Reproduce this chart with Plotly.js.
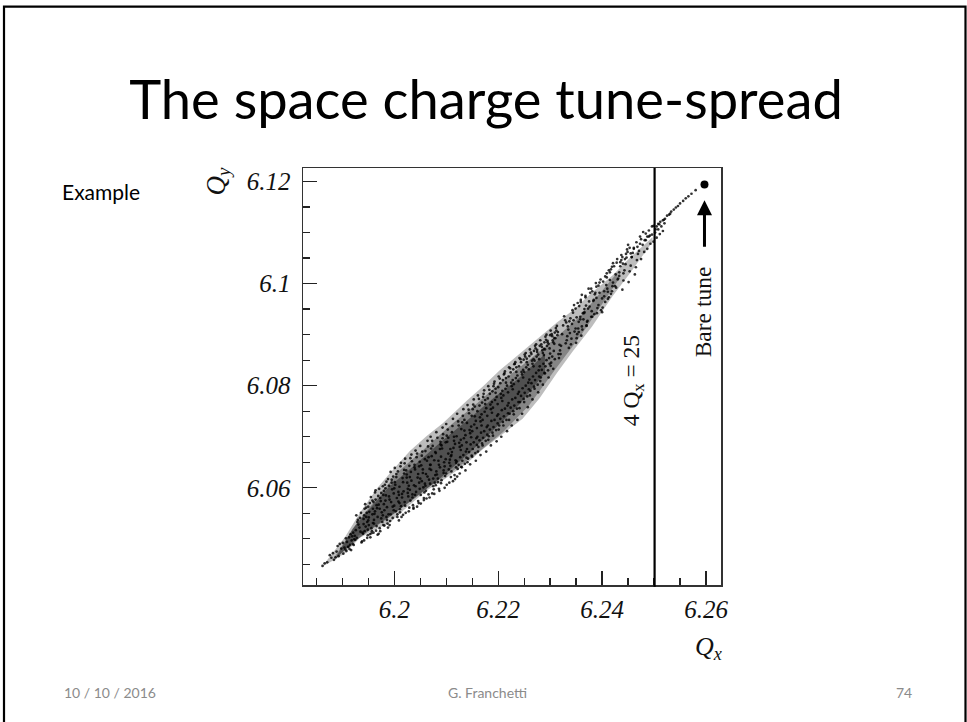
<!DOCTYPE html>
<html><head><meta charset="utf-8">
<script src="https://cdn.plot.ly/plotly-3.0.1.min.js"></script>
<style>html,body{margin:0;padding:0;background:#fff}#c{width:967px;height:722px}</style>
</head><body><div id="c"></div>
<script>
const envelopeQx=[6.1862,6.189,6.1905,6.1934,6.1967,6.1992,6.203,6.2063,6.2094,6.214,6.2171,6.2203,6.2247,6.228,6.2313,6.2344,6.238,6.242,6.2455,6.2497];
const envelopeTop=[6.0447,6.0482,6.0503,6.0551,6.0599,6.0629,6.0672,6.0702,6.0727,6.0771,6.0799,6.083,6.0868,6.0897,6.0924,6.0948,6.0982,6.1016,6.1052,6.1091];
const envelopeBottom=[6.0446,6.0462,6.0472,6.0502,6.052,6.0532,6.0567,6.0595,6.0615,6.0648,6.0676,6.07,6.0735,6.0776,6.0825,6.0868,6.0915,6.0975,6.1022,6.1082];
const midQx=[6.1885,6.193,6.197,6.201,6.206,6.211,6.216,6.221,6.226,6.231,6.236,6.243];
const midTop=[6.0464,6.0534,6.0584,6.0634,6.0678,6.0724,6.0766,6.0811,6.0851,6.0893,6.0938,6.1022];
const midBottom=[6.0458,6.0506,6.053,6.0558,6.0597,6.0631,6.0668,6.071,6.0762,6.0832,6.09,6.1005];
const coreQx=[6.189,6.192,6.195,6.199,6.204,6.209,6.214,6.219,6.224,6.229];
const coreTop=[6.0468,6.052,6.0556,6.0602,6.0645,6.069,6.0732,6.0775,6.0815,6.0862];
const coreBottom=[6.0464,6.0492,6.0515,6.0542,6.058,6.062,6.0664,6.0712,6.0762,6.0825];
const cloudQx=[
6.1862,6.1871,6.1866,6.1879,6.1884,6.1876,6.1889,6.1893,6.1882,6.1898,6.1887,6.1902,6.1895,6.1906,6.1891,6.1911,
6.1918,6.1908,6.1915,6.1913,6.1921,6.1904,6.1917,6.1909,6.1919,6.1912,6.1923,6.1916,6.1901,6.1914,6.1907,6.1920,
6.1931,6.1924,6.1937,6.1926,6.1934,6.1922,6.1939,6.1929,6.1925,6.1936,6.1928,6.1933,6.1938,6.1927,6.1935,6.1930,
6.1943,6.1948,6.1941,6.1946,6.1940,6.1949,6.1944,6.1942,6.1947,6.1945,6.1941,6.1949,6.1943,6.1946,6.1948,6.1942,
6.1953,6.1958,6.1951,6.1956,6.1950,6.1959,6.1954,6.1952,6.1957,6.1955,6.1951,6.1958,6.1953,6.1950,6.1956,6.1959,
6.1964,6.1961,6.1968,6.1960,6.1966,6.1969,6.1962,6.1965,6.1967,6.1963,6.1961,6.1968,6.1964,6.1960,6.1966,6.1963,
6.1972,6.1978,6.1970,6.1975,6.1979,6.1973,6.1976,6.1971,6.1977,6.1974,6.1970,6.1978,6.1972,6.1975,6.1979,6.1973,
6.1985,6.1981,6.1988,6.1980,6.1986,6.1983,6.1989,6.1982,6.1987,6.1984,6.1980,6.1988,6.1985,6.1981,6.1983,6.1986,
6.1993,6.1997,6.1990,6.1995,6.1999,6.1991,6.1996,6.1994,6.1998,6.1992,6.1990,6.1997,6.1993,6.1999,6.1995,6.1991,
6.2006,6.2001,6.2008,6.2000,6.2004,6.2009,6.2002,6.2005,6.2007,6.2003,6.2001,6.2008,6.2000,6.2006,6.2004,6.2009,
6.2013,6.2017,6.2010,6.2015,6.2019,6.2011,6.2016,6.2014,6.2018,6.2012,6.2010,6.2017,6.2013,6.2019,6.2015,6.2011,
6.2024,6.2028,6.2021,6.2026,6.2020,6.2029,6.2022,6.2025,6.2027,6.2023,6.2021,6.2028,6.2020,6.2026,6.2024,6.2029,
6.2033,6.2037,6.2030,6.2035,6.2039,6.2031,6.2036,6.2034,6.2038,6.2032,6.2030,6.2037,6.2033,6.2039,6.2035,6.2031,
6.2046,6.2041,6.2048,6.2040,6.2044,6.2049,6.2042,6.2045,6.2047,6.2043,6.2041,6.2048,6.2040,6.2046,6.2044,6.2049,
6.2053,6.2057,6.2050,6.2055,6.2059,6.2051,6.2056,6.2054,6.2058,6.2052,6.2050,6.2057,6.2053,6.2059,6.2055,6.2051,
6.2064,6.2068,6.2061,6.2066,6.2060,6.2069,6.2062,6.2065,6.2067,6.2063,6.2061,6.2068,6.2060,6.2066,6.2064,6.2069,
6.2073,6.2077,6.2070,6.2075,6.2079,6.2071,6.2076,6.2074,6.2078,6.2072,6.2070,6.2077,6.2073,6.2079,6.2075,6.2071,
6.2086,6.2081,6.2088,6.2080,6.2084,6.2089,6.2082,6.2085,6.2087,6.2083,6.2081,6.2088,6.2080,6.2086,6.2084,6.2089,
6.2093,6.2097,6.2090,6.2095,6.2099,6.2091,6.2096,6.2094,6.2098,6.2092,6.2090,6.2097,6.2093,6.2099,6.2095,6.2091,
6.2106,6.2101,6.2108,6.2100,6.2104,6.2109,6.2102,6.2105,6.2107,6.2103,6.2101,6.2108,6.2100,6.2106,6.2104,6.2109,
6.2113,6.2117,6.2110,6.2115,6.2119,6.2111,6.2116,6.2114,6.2118,6.2112,6.2110,6.2117,6.2113,6.2119,6.2115,6.2111,
6.2126,6.2121,6.2128,6.2120,6.2124,6.2129,6.2122,6.2125,6.2127,6.2123,6.2121,6.2128,6.2120,6.2126,6.2124,6.2129,
6.2133,6.2137,6.2130,6.2135,6.2139,6.2131,6.2136,6.2134,6.2138,6.2132,6.2130,6.2137,6.2133,6.2139,6.2135,6.2131,
6.2146,6.2141,6.2148,6.2140,6.2144,6.2149,6.2142,6.2145,6.2147,6.2143,6.2141,6.2148,6.2140,6.2146,6.2144,6.2149,
6.2153,6.2157,6.2150,6.2155,6.2159,6.2151,6.2156,6.2154,6.2158,6.2152,6.2150,6.2157,6.2153,6.2159,6.2155,6.2151,
6.2166,6.2161,6.2168,6.2160,6.2164,6.2169,6.2162,6.2165,6.2167,6.2163,6.2161,6.2168,6.2160,6.2166,6.2164,6.2169,
6.2173,6.2177,6.2170,6.2175,6.2179,6.2171,6.2176,6.2174,6.2178,6.2172,6.2170,6.2177,6.2173,6.2179,6.2175,6.2171,
6.2186,6.2181,6.2188,6.2180,6.2184,6.2189,6.2182,6.2185,6.2187,6.2183,6.2181,6.2188,6.2180,6.2186,6.2184,6.2189,
6.2193,6.2197,6.2190,6.2195,6.2199,6.2191,6.2196,6.2194,6.2198,6.2192,6.2190,6.2197,6.2193,6.2199,6.2195,6.2191,
6.2206,6.2201,6.2208,6.2200,6.2204,6.2209,6.2202,6.2205,6.2207,6.2203,6.2201,6.2208,6.2200,6.2206,6.2204,6.2209,
6.2213,6.2217,6.2210,6.2215,6.2219,6.2211,6.2216,6.2214,6.2218,6.2212,6.2210,6.2217,6.2213,6.2219,6.2215,6.2211,
6.2226,6.2221,6.2228,6.2220,6.2224,6.2229,6.2222,6.2225,6.2227,6.2223,6.2221,6.2228,6.2220,6.2226,6.2224,6.2229,
6.2233,6.2237,6.2230,6.2235,6.2239,6.2231,6.2236,6.2234,6.2238,6.2232,6.2230,6.2237,6.2233,6.2239,6.2235,6.2231,
6.2246,6.2241,6.2248,6.2240,6.2244,6.2249,6.2242,6.2245,6.2247,6.2243,6.2241,6.2248,6.2240,6.2246,6.2244,6.2249,
6.2253,6.2257,6.2250,6.2255,6.2259,6.2251,6.2256,6.2254,6.2258,6.2252,6.2250,6.2257,6.2253,6.2259,6.2255,6.2251,
6.2266,6.2261,6.2268,6.2260,6.2264,6.2269,6.2262,6.2265,6.2267,6.2263,6.2261,6.2268,6.2260,6.2266,6.2264,6.2269,
6.2273,6.2277,6.2270,6.2275,6.2279,6.2271,6.2276,6.2274,6.2278,6.2272,6.2270,6.2277,6.2273,6.2279,6.2275,6.2271,
6.2286,6.2281,6.2288,6.2280,6.2284,6.2289,6.2282,6.2285,6.2287,6.2283,6.2281,6.2288,6.2280,6.2286,6.2284,6.2289,
6.2293,6.2297,6.2290,6.2295,6.2299,6.2291,6.2296,6.2294,6.2298,6.2292,6.2290,6.2297,6.2293,6.2299,6.2295,6.2291,
6.2306,6.2301,6.2308,6.2300,6.2304,6.2309,6.2302,6.2305,6.2307,6.2303,6.2301,6.2308,6.2300,6.2306,6.2304,6.2309,
6.2313,6.2317,6.2310,6.2315,6.2319,6.2311,6.2316,6.2314,6.2318,6.2312,6.2323,6.2327,6.2320,6.2325,6.2329,6.2321,
6.2336,6.2331,6.2338,6.2330,6.2334,6.2339,6.2332,6.2335,6.2337,6.2333,6.2343,6.2347,6.2340,6.2345,6.2349,6.2341,
6.2356,6.2351,6.2358,6.2350,6.2354,6.2359,6.2352,6.2355,6.2366,6.2361,6.2368,6.2360,6.2364,6.2369,6.2362,6.2365,
6.2373,6.2377,6.2370,6.2375,6.2379,6.2371,6.2386,6.2381,6.2388,6.2380,6.2384,6.2389,6.2393,6.2397,6.2390,6.2395,
6.2406,6.2401,6.2408,6.2400,6.2404,6.2409,6.2413,6.2417,6.2410,6.2415,6.2419,6.2411,6.2426,6.2421,6.2428,6.2420,
6.2433,6.2437,6.2430,6.2435,6.2439,6.2446,6.2441,6.2448,6.2440,6.2444,6.2453,6.2457,6.2450,6.2455,6.2466,6.2461,
6.2473,6.2468,6.2479,6.2475,6.2484,6.2482,6.2490,6.2487,6.2496,6.2492,6.2499,6.2503,6.2508,6.2505,6.2512,6.2510,
6.2517,6.2521,6.2525,6.2519,6.2529,6.2533,6.2538,6.2531,6.2542,6.2546,6.2550,6.2556,6.2561,6.2566,6.2572,6.2580,
6.2342,6.2346,6.2351,6.2355,6.2359,6.2363,6.2368,6.2372,6.2376,6.2381,6.2385,6.2389,6.2393,6.2398,6.2402,6.2406,
6.2344,6.2349,6.2353,6.2358,6.2361,6.2366,6.2370,6.2374,6.2379,6.2383,6.2387,6.2391,6.2395,6.2400,6.2404,6.2409,
6.2411,6.2415,6.2419,6.2423,6.2427,6.2431,6.2435,6.2439,6.2443,6.2447,6.2451,6.2455,6.2459,6.2463,6.2467,6.2471,
6.2413,6.2417,6.2421,6.2425,6.2429,6.2433,6.2437,6.2441,6.2445,6.2449,6.2453,6.2457,6.2461,6.2465,6.2469,6.2473,
6.2475,6.2478,6.2481,6.2484,6.2487,6.2490,6.2493,6.2496,6.2499,6.2502,6.2505,6.2508,6.2511,6.2514,6.2517,6.2520
];
const cloudQy=[
6.0447,6.0454,6.0452,6.0463,6.0459,6.0468,6.0475,6.0466,6.0472,6.0481,6.0464,6.0471,6.0490,6.0479,6.0486,6.0484,
6.0497,6.0476,6.0488,6.0503,6.0512,6.0483,6.0478,6.0494,6.0505,6.0485,6.0499,6.0509,6.0492,6.0480,6.0501,6.0490,
6.0528,6.0506,6.0493,6.0517,6.0541,6.0488,6.0512,6.0533,6.0498,6.0551,6.0502,6.0522,6.0495,6.0546,6.0514,6.0537,
6.0559,6.0502,6.0529,6.0543,6.0510,6.0518,6.0568,6.0497,6.0551,6.0524,6.0539,6.0507,6.0515,6.0561,6.0533,6.0546,
6.0509,6.0575,6.0542,6.0521,6.0563,6.0531,6.0503,6.0553,6.0515,6.0582,6.0527,6.0548,6.0570,6.0536,6.0511,6.0559,
6.0595,6.0537,6.0508,6.0572,6.0525,6.0584,6.0549,6.0516,6.0560,6.0591,6.0530,6.0543,6.0577,6.0512,6.0566,6.0554,
6.0521,6.0603,6.0567,6.0540,6.0586,6.0515,6.0552,6.0598,6.0533,6.0574,6.0510,6.0546,6.0559,6.0590,6.0527,6.0580,
6.0612,6.0556,6.0522,6.0594,6.0537,6.0575,6.0548,6.0606,6.0530,6.0585,6.0568,6.0617,6.0543,6.0526,6.0599,6.0562,
6.0631,6.0541,6.0583,6.0610,6.0556,6.0527,6.0597,6.0572,6.0622,6.0535,6.0604,6.0563,6.0548,6.0589,6.0616,6.0577,
6.0548,6.0639,6.0592,6.0565,6.0621,6.0536,6.0606,6.0580,6.0632,6.0554,6.0611,6.0573,6.0599,6.0543,6.0627,6.0586,
6.0649,6.0547,6.0602,6.0581,6.0635,6.0558,6.0619,6.0543,6.0593,6.0642,6.0570,6.0611,6.0564,6.0628,6.0588,6.0552,
6.0620,6.0554,6.0657,6.0598,6.0572,6.0643,6.0551,6.0610,6.0583,6.0634,6.0565,6.0604,6.0648,6.0590,6.0626,6.0561,
6.0665,6.0559,6.0621,6.0587,6.0640,6.0575,6.0566,6.0652,6.0605,6.0631,6.0596,6.0561,6.0614,6.0645,6.0581,6.0658,
6.0574,6.0673,6.0610,6.0636,6.0563,6.0651,6.0592,6.0620,6.0570,6.0660,6.0603,6.0642,6.0586,6.0627,6.0667,6.0598,
6.0613,6.0580,6.0682,6.0629,6.0656,6.0569,6.0601,6.0671,6.0591,6.0644,6.0618,6.0576,6.0663,6.0608,6.0636,6.0586,
6.0692,6.0581,6.0627,6.0660,6.0604,6.0645,6.0579,6.0681,6.0616,6.0653,6.0594,6.0637,6.0672,6.0587,6.0622,6.0608,
6.0589,6.0654,6.0700,6.0618,6.0670,6.0635,6.0597,6.0682,6.0610,6.0662,6.0645,6.0588,6.0692,6.0625,6.0603,6.0677,
6.0598,6.0709,6.0640,6.0668,6.0611,6.0685,6.0626,6.0653,6.0594,6.0698,6.0632,6.0676,6.0605,6.0645,6.0618,6.0690,
6.0718,6.0600,6.0661,6.0634,6.0689,6.0615,6.0650,6.0705,6.0623,6.0677,6.0609,6.0642,6.0697,6.0656,6.0629,6.0683,
6.0610,6.0702,6.0643,6.0725,6.0667,6.0621,6.0690,6.0636,6.0655,6.0714,6.0606,6.0676,6.0628,6.0649,6.0698,6.0662,
6.0735,6.0617,6.0664,6.0692,6.0640,6.0709,6.0625,6.0678,6.0654,6.0721,6.0632,6.0686,6.0613,6.0649,6.0700,6.0670,
6.0628,6.0745,6.0674,6.0701,6.0645,6.0715,6.0637,6.0688,6.0660,6.0730,6.0622,6.0694,6.0652,6.0680,6.0722,6.0641,
6.0754,6.0634,6.0683,6.0712,6.0659,6.0728,6.0647,6.0697,6.0671,6.0741,6.0640,6.0703,6.0664,6.0689,6.0733,6.0653,
6.0646,6.0762,6.0699,6.0727,6.0670,6.0741,6.0657,6.0713,6.0685,6.0753,6.0650,6.0720,6.0676,6.0707,6.0746,6.0663,
6.0773,6.0653,6.0711,6.0740,6.0684,6.0754,6.0668,6.0724,6.0697,6.0763,6.0661,6.0731,6.0689,6.0717,6.0759,6.0676,
6.0664,6.0781,6.0722,6.0750,6.0693,6.0767,6.0680,6.0738,6.0708,6.0774,6.0671,6.0744,6.0700,6.0730,6.0761,6.0687,
6.0791,6.0671,6.0733,6.0764,6.0704,6.0778,6.0692,6.0749,6.0719,6.0784,6.0683,6.0756,6.0711,6.0741,6.0772,6.0698,
6.0683,6.0799,6.0747,6.0775,6.0714,6.0789,6.0701,6.0763,6.0731,6.0792,6.0694,6.0768,6.0722,6.0754,6.0784,6.0708,
6.0808,6.0691,6.0757,6.0786,6.0726,6.0799,6.0713,6.0772,6.0741,6.0804,6.0702,6.0778,6.0733,6.0764,6.0794,6.0719,
6.0700,6.0818,6.0770,6.0797,6.0735,6.0811,6.0722,6.0784,6.0752,6.0814,6.0714,6.0790,6.0744,6.0776,6.0805,6.0729,
6.0828,6.0711,6.0781,6.0806,6.0746,6.0822,6.0733,6.0794,6.0761,6.0824,6.0722,6.0800,6.0755,6.0787,6.0815,6.0740,
6.0722,6.0836,6.0793,6.0818,6.0757,6.0832,6.0745,6.0806,6.0773,6.0834,6.0733,6.0811,6.0766,6.0799,6.0826,6.0750,
6.0846,6.0733,6.0803,6.0827,6.0768,6.0842,6.0755,6.0815,6.0784,6.0843,6.0744,6.0820,6.0776,6.0809,6.0836,6.0761,
6.0745,6.0854,6.0816,6.0838,6.0780,6.0851,6.0768,6.0827,6.0795,6.0852,6.0756,6.0831,6.0788,6.0822,6.0846,6.0774,
6.0864,6.0758,6.0827,6.0846,6.0793,6.0861,6.0779,6.0836,6.0806,6.0857,6.0768,6.0841,6.0800,6.0832,6.0853,6.0786,
6.0773,6.0871,6.0838,6.0858,6.0805,6.0868,6.0790,6.0849,6.0818,6.0865,6.0781,6.0852,6.0812,6.0843,6.0862,6.0798,
6.0881,6.0787,6.0849,6.0866,6.0818,6.0878,6.0802,6.0857,6.0830,6.0873,6.0794,6.0861,6.0825,6.0852,6.0870,6.0811,
6.0802,6.0889,6.0860,6.0878,6.0831,6.0885,6.0816,6.0869,6.0843,6.0881,6.0809,6.0872,6.0838,6.0864,6.0876,6.0825,
6.0900,6.0816,6.0871,6.0885,6.0843,6.0896,6.0830,6.0878,6.0854,6.0890,6.0824,6.0882,6.0850,6.0873,6.0888,6.0838,
6.0833,6.0908,6.0882,6.0899,6.0857,6.0904,6.0845,6.0889,6.0868,6.0901,6.0839,6.0893,6.0863,6.0885,6.0897,6.0852,
6.0917,6.0854,6.0893,6.0905,6.0869,6.0913,6.0862,6.0899,6.0880,6.0908,6.0901,6.0936,6.0862,6.0918,6.0928,6.0878,
6.0874,6.0924,6.0903,6.0883,6.0916,6.0932,6.0889,6.0910,6.0926,6.0897,6.0948,6.0906,6.0881,6.0928,6.0951,6.0892,
6.0956,6.0893,6.0935,6.0884,6.0912,6.0964,6.0901,6.0925,6.0944,6.0916,6.0973,6.0898,6.0930,6.0957,6.0910,6.0942,
6.0951,6.0982,6.0917,6.0965,6.0990,6.0925,6.0979,6.0935,6.1001,6.0946,6.0968,6.0994,6.0958,6.1008,6.0942,6.0982,
6.1014,6.0953,6.0997,6.0971,6.0985,6.1020,6.0973,6.1028,6.0990,6.1007,6.1033,6.0984,6.1018,6.1002,6.1041,6.0995,
6.1022,6.1046,6.1008,6.1034,6.1052,6.1058,6.1020,6.1067,6.1039,6.1048,6.1070,6.1052,6.1076,6.1059,6.1081,6.1068,
6.1092,6.1072,6.1101,6.1087,6.1098,6.1085,6.1104,6.1092,6.1112,6.1094,6.1113,6.1106,6.1117,6.1112,6.1121,6.1116,
6.1124,6.1127,6.1133,6.1125,6.1135,6.1141,6.1145,6.1137,6.1149,6.1152,6.1157,6.1162,6.1167,6.1171,6.1176,6.1183,
6.0921,6.0958,6.0934,6.0905,6.0968,6.0942,6.0976,6.0927,6.0955,6.0985,6.0940,6.0972,6.0996,6.0948,6.1004,6.0964,
6.0943,6.0912,6.0962,6.0930,6.0978,6.0950,6.0918,6.0990,6.0935,6.0966,6.0982,6.0952,6.1002,6.0944,6.0975,6.1012,
6.0970,6.1022,6.0985,6.1034,6.0992,6.1010,6.1042,6.0988,6.1026,6.1051,6.1003,6.1035,6.1060,6.1018,6.1046,6.1064,
6.1026,6.0980,6.1040,6.0995,6.1048,6.1015,6.1056,6.1006,6.1038,6.1062,6.1024,6.1052,6.1070,6.1032,6.1058,6.1078,
6.1048,6.1076,6.1062,6.1085,6.1068,6.1092,6.1078,6.1096,6.1082,6.1100,6.1090,6.1106,6.1097,6.1112,6.1103,6.1118
];
const bareQx=[6.2597], bareQy=[6.1194];
const xTicks=[6.2,6.22,6.24,6.26], xLabels=['6.2','6.22','6.24','6.26'];
const yTicks=[6.06,6.08,6.1,6.12], yLabels=['6.06','6.08','6.1','6.12'];

const L=303,R=721,T=167.5,B=585;
const px=v=>(v-L)/(R-L), py=v=>(B-v)/(B-T);
const serif='"Liberation Serif",serif', sans='Lato,sans-serif';
const note=(text,x,y,size,o={})=>Object.assign({text,x:px(x),y:py(y),xref:'paper',yref:'paper',showarrow:false,
  xanchor:'center',yanchor:'middle',font:{family:serif,size,color:'#111'}},o);
const axis=(tv,tt,rng)=>({range:rng,tickmode:'array',tickvals:tv,ticktext:tt,ticks:'inside',ticklen:14,tickwidth:1.3,tickcolor:'#222',
  showgrid:false,zeroline:false,showline:true,mirror:true,linecolor:'#333',linewidth:1.5,
  tickfont:{family:serif,size:25,color:'#111',style:'italic'},
  minor:{ticks:'inside',ticklen:7,tickwidth:1.3,tickcolor:'#222',dtick:0.005,tick0:6,showgrid:false}});
const xa=axis(xTicks,xLabels,[6.18244,6.26288]); xa.ticklabelstandoff=1;
const ya=axis(yTicks,yLabels,[6.04096,6.12264]); ya.ticklabelstandoff=6;
const band=(xs,top,bot,color)=>({x:xs.concat(xs.slice().reverse()),y:top.concat(bot.slice().reverse()),mode:'lines',fill:'toself',fillcolor:color,line:{width:0},hoverinfo:'skip'});
const traces=[
 band(envelopeQx,envelopeTop,envelopeBottom,'rgba(145,145,145,0.6)'),
 band(midQx,midTop,midBottom,'rgba(95,95,95,0.6)'),
 band(coreQx,coreTop,coreBottom,'rgba(45,45,45,0.6)'),
 {x:cloudQx,y:cloudQy,mode:'markers',marker:{size:2.7,color:'#000',opacity:0.8},type:'scatter'},
 {x:bareQx,y:bareQy,mode:'markers',marker:{size:8,color:'#000'}}
];
const layout={width:967,height:722,margin:{l:L,r:967-R,t:T,b:722-B},paper_bgcolor:'#fff',plot_bgcolor:'#fff',showlegend:false,
 title:{text:'The space charge tune-spread',x:486/967,xanchor:'center',y:1-100/722,yanchor:'middle',font:{family:sans,size:54.3,color:'#000'}},
 xaxis:xa,yaxis:ya,
 shapes:[
  {type:'line',xref:'x',yref:'paper',x0:6.2501,x1:6.2501,y0:-0.004,y1:1,line:{color:'#000',width:2.2}},
  {type:'rect',xref:'paper',yref:'paper',x0:px(4),x1:px(965.5),y0:py(6),y1:py(730),line:{color:'#000',width:2.2},fillcolor:'rgba(0,0,0,0)',layer:'below'}
 ],
 annotations:[
  note('Example',101,191,21,{font:{family:sans,size:21,color:'#000'}}),
  note('<i>Q<sub>y</sub></i>',218,181,27,{textangle:-90}),
  note('<i>Q<sub>x</sub></i>',708,648,26),
  note('Bare tune',703,312,23.5,{textangle:-90}),
  note('4 Q<sub>x</sub> = 25',633,381,23.5,{textangle:-90}),
  note('10 / 10 / 2016',109.5,693,14,{font:{family:sans,size:14,color:'#8b8b8b'}}),
  note('G. Franchetti',487.5,693,14,{font:{family:sans,size:14,color:'#8b8b8b'}}),
  note('74',903.5,693,14,{font:{family:sans,size:14,color:'#8b8b8b'}}),
  {x:6.2597,y:6.1163,ax:6.2597,ay:6.1069,xref:'x',yref:'y',axref:'x',ayref:'y',text:'',showarrow:true,arrowhead:2,arrowsize:1,arrowwidth:3,arrowcolor:'#000'}
 ]};
Plotly.newPlot('c',traces,layout,{displayModeBar:false,staticPlot:true});
</script></body></html>
